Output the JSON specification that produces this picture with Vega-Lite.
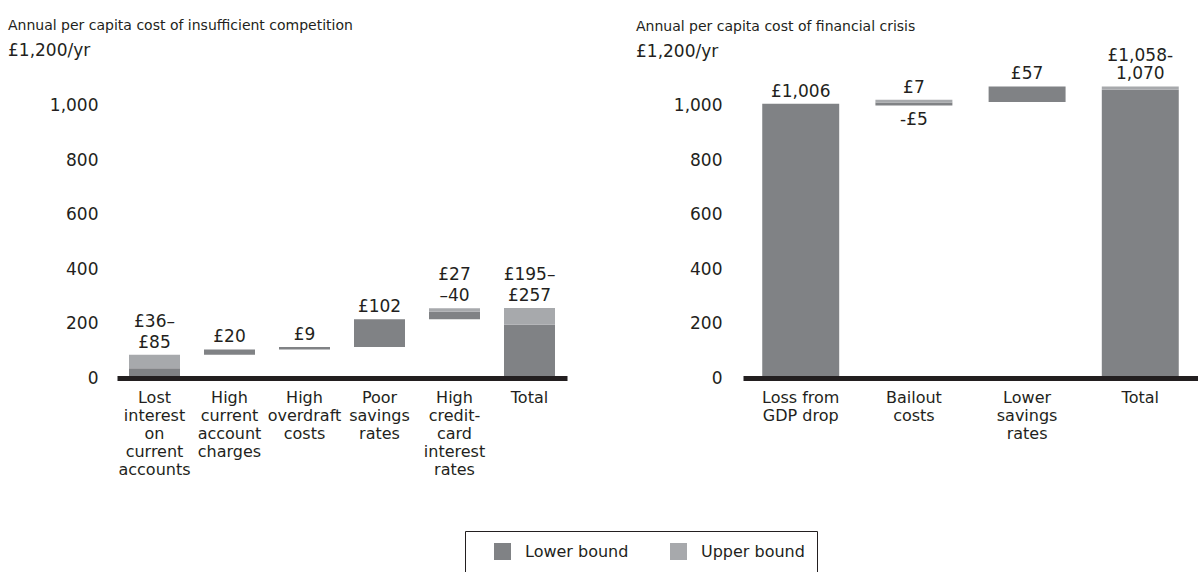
{
  "$schema": "https://vega.github.io/schema/vega-lite/v6.json",
  "padding": {"left": 8, "top": 19, "right": 0, "bottom": 0},
  "autosize": {"type": "pad"},
  "background": "white",
  "config": {
    "view": {"stroke": null},
    "font": "DejaVu Sans",
    "concat": {"spacing": 69},
    "text": {"font": "DejaVu Sans"},
    "title": {"color": "#231f20", "subtitleColor": "#231f20", "fontWeight": "normal", "fontSize": 14, "subtitleFontSize": 17, "anchor": "start", "frame": "group", "subtitlePadding": 10, "font": "DejaVu Sans", "subtitleFont": "DejaVu Sans"}
  },
  "datasets": {
    "leftBars": [
      {"cat": "Lost|interest|on|current|accounts", "series": "Lower bound", "y0": 0, "y1": 36},
      {"cat": "Lost|interest|on|current|accounts", "series": "Upper bound", "y0": 36, "y1": 85},
      {"cat": "High|current|account|charges", "series": "Lower bound", "y0": 85, "y1": 105},
      {"cat": "High|overdraft|costs", "series": "Lower bound", "y0": 105, "y1": 114},
      {"cat": "Poor|savings|rates", "series": "Lower bound", "y0": 114, "y1": 216},
      {"cat": "High|credit-|card|interest|rates", "series": "Lower bound", "y0": 216, "y1": 243},
      {"cat": "High|credit-|card|interest|rates", "series": "Upper bound", "y0": 243, "y1": 256},
      {"cat": "Total", "series": "Lower bound", "y0": 0, "y1": 195},
      {"cat": "Total", "series": "Upper bound", "y0": 195, "y1": 257}
    ],
    "leftLabelsLast": [
      {"cat": "Lost|interest|on|current|accounts", "y": 85, "label": "£85"},
      {"cat": "High|current|account|charges", "y": 105, "label": "£20"},
      {"cat": "High|overdraft|costs", "y": 114, "label": "£9"},
      {"cat": "Poor|savings|rates", "y": 216, "label": "£102"},
      {"cat": "High|credit-|card|interest|rates", "y": 256, "label": "–40"},
      {"cat": "Total", "y": 257, "label": "£257"}
    ],
    "leftLabelsFirst": [
      {"cat": "Lost|interest|on|current|accounts", "y": 85, "label": "£36–"},
      {"cat": "High|credit-|card|interest|rates", "y": 256, "label": "£27"},
      {"cat": "Total", "y": 257, "label": "£195–"}
    ],
    "rightBars": [
      {"cat": "Loss from|GDP drop", "series": "Lower bound", "y0": 0, "y1": 1006},
      {"cat": "Bailout|costs", "series": "Lower bound", "y0": 1000, "y1": 1011},
      {"cat": "Bailout|costs", "series": "Upper bound", "y0": 1011, "y1": 1021},
      {"cat": "Lower|savings|rates", "series": "Lower bound", "y0": 1013, "y1": 1070},
      {"cat": "Total", "series": "Lower bound", "y0": 0, "y1": 1058},
      {"cat": "Total", "series": "Upper bound", "y0": 1058, "y1": 1070}
    ],
    "rightLabelsLast": [
      {"cat": "Loss from|GDP drop", "y": 1006, "label": "£1,006"},
      {"cat": "Bailout|costs", "y": 1021, "label": "£7"},
      {"cat": "Lower|savings|rates", "y": 1070, "label": "£57"},
      {"cat": "Total", "y": 1070, "label": "1,070"}
    ],
    "rightLabelsFirst": [
      {"cat": "Total", "y": 1070, "label": "£1,058-"}
    ],
    "rightLabelsBelow": [
      {"cat": "Bailout|costs", "y": 1000, "label": "-£5"}
    ]
  },
  "hconcat": [
    {
      "width": 450,
      "height": 327,
      "title": {"text": "Annual per capita cost of insufficient competition", "subtitle": "£1,200/yr", "dx": -109, "offset": -8},
      "layer": [
        {
          "data": {"name": "leftBars"},
          "mark": {"type": "bar"},
          "encoding": {
            "x": {"field": "cat", "type": "nominal",
              "sort": ["Lost|interest|on|current|accounts", "High|current|account|charges", "High|overdraft|costs", "Poor|savings|rates", "High|credit-|card|interest|rates", "Total"],
              "scale": {"paddingInner": 0.32, "paddingOuter": 0.16},
              "axis": {"title": null, "labelAngle": 0, "labelExpr": "split(datum.label, '|')", "labelFontSize": 16, "labelLineHeight": 18, "labelBaseline": "top", "labelPadding": 11, "labelColor": "#231f20", "ticks": false, "domainColor": "#231f20", "domainWidth": 5, "zindex": 1}
            },
            "y": {"field": "y0", "type": "quantitative", "scale": {"domain": [0, 1200], "nice": false},
              "axis": {"title": null, "values": [0, 200, 400, 600, 800, 1000], "format": ",d", "domain": false, "ticks": false, "grid": false, "labelFontSize": 17, "labelPadding": 19, "labelColor": "#231f20"}
            },
            "y2": {"field": "y1"},
            "color": {"field": "series", "type": "nominal",
              "scale": {"domain": ["Lower bound", "Upper bound"], "range": ["#808285", "#a7a9ac"]},
              "legend": {"orient": "none", "legendX": 348, "legendY": 480, "direction": "horizontal", "title": null, "symbolType": "square", "symbolSize": 289, "symbolStrokeWidth": 0, "symbolOpacity": 1, "labelFontSize": 16, "labelFont": "DejaVu Sans", "labelColor": "#231f20", "labelOffset": 14, "columnPadding": 24, "strokeColor": "#231f20", "padding": 12, "symbolOffset": 17}
            }
          }
        },
        {
          "data": {"name": "leftLabelsLast"},
          "mark": {"type": "text", "baseline": "bottom", "dy": -3, "fontSize": 17, "color": "#231f20"},
          "encoding": {
            "x": {"field": "cat", "type": "nominal", "sort": ["Lost|interest|on|current|accounts", "High|current|account|charges", "High|overdraft|costs", "Poor|savings|rates", "High|credit-|card|interest|rates", "Total"]},
            "y": {"field": "y", "type": "quantitative"},
            "text": {"field": "label"}
          }
        },
        {
          "data": {"name": "leftLabelsFirst"},
          "mark": {"type": "text", "baseline": "bottom", "dy": -24, "fontSize": 17, "color": "#231f20"},
          "encoding": {
            "x": {"field": "cat", "type": "nominal", "sort": ["Lost|interest|on|current|accounts", "High|current|account|charges", "High|overdraft|costs", "Poor|savings|rates", "High|credit-|card|interest|rates", "Total"]},
            "y": {"field": "y", "type": "quantitative"},
            "text": {"field": "label"}
          }
        }
      ]
    },
    {
      "width": 455,
      "height": 327,
      "title": {"text": "Annual per capita cost of financial crisis", "subtitle": "£1,200/yr", "dx": -107, "offset": -13},
      "layer": [
        {
          "data": {"name": "rightBars"},
          "mark": {"type": "bar"},
          "encoding": {
            "x": {"field": "cat", "type": "nominal",
              "sort": ["Loss from|GDP drop", "Bailout|costs", "Lower|savings|rates", "Total"],
              "scale": {"paddingInner": 0.32, "paddingOuter": 0.17},
              "axis": {"title": null, "labelAngle": 0, "labelExpr": "split(datum.label, '|')", "labelFontSize": 16, "labelLineHeight": 18, "labelBaseline": "top", "labelPadding": 11, "labelColor": "#231f20", "ticks": false, "domainColor": "#231f20", "domainWidth": 5, "zindex": 1}
            },
            "y": {"field": "y0", "type": "quantitative", "scale": {"domain": [0, 1200], "nice": false},
              "axis": {"title": null, "values": [0, 200, 400, 600, 800, 1000], "format": ",d", "domain": false, "ticks": false, "grid": false, "labelFontSize": 17, "labelPadding": 21, "labelColor": "#231f20"}
            },
            "y2": {"field": "y1"},
            "color": {"field": "series", "type": "nominal",
              "scale": {"domain": ["Lower bound", "Upper bound"], "range": ["#808285", "#a7a9ac"]}}
          }
        },
        {
          "data": {"name": "rightLabelsLast"},
          "mark": {"type": "text", "baseline": "bottom", "dy": -3, "fontSize": 17, "color": "#231f20"},
          "encoding": {
            "x": {"field": "cat", "type": "nominal", "sort": ["Loss from|GDP drop", "Bailout|costs", "Lower|savings|rates", "Total"]},
            "y": {"field": "y", "type": "quantitative"},
            "text": {"field": "label"}
          }
        },
        {
          "data": {"name": "rightLabelsFirst"},
          "mark": {"type": "text", "baseline": "bottom", "dy": -21, "fontSize": 17, "color": "#231f20"},
          "encoding": {
            "x": {"field": "cat", "type": "nominal", "sort": ["Loss from|GDP drop", "Bailout|costs", "Lower|savings|rates", "Total"]},
            "y": {"field": "y", "type": "quantitative"},
            "text": {"field": "label"}
          }
        },
        {
          "data": {"name": "rightLabelsBelow"},
          "mark": {"type": "text", "baseline": "top", "dy": 6, "fontSize": 17, "color": "#231f20"},
          "encoding": {
            "x": {"field": "cat", "type": "nominal", "sort": ["Loss from|GDP drop", "Bailout|costs", "Lower|savings|rates", "Total"]},
            "y": {"field": "y", "type": "quantitative"},
            "text": {"field": "label"}
          }
        }
      ]
    }
  ]
}
